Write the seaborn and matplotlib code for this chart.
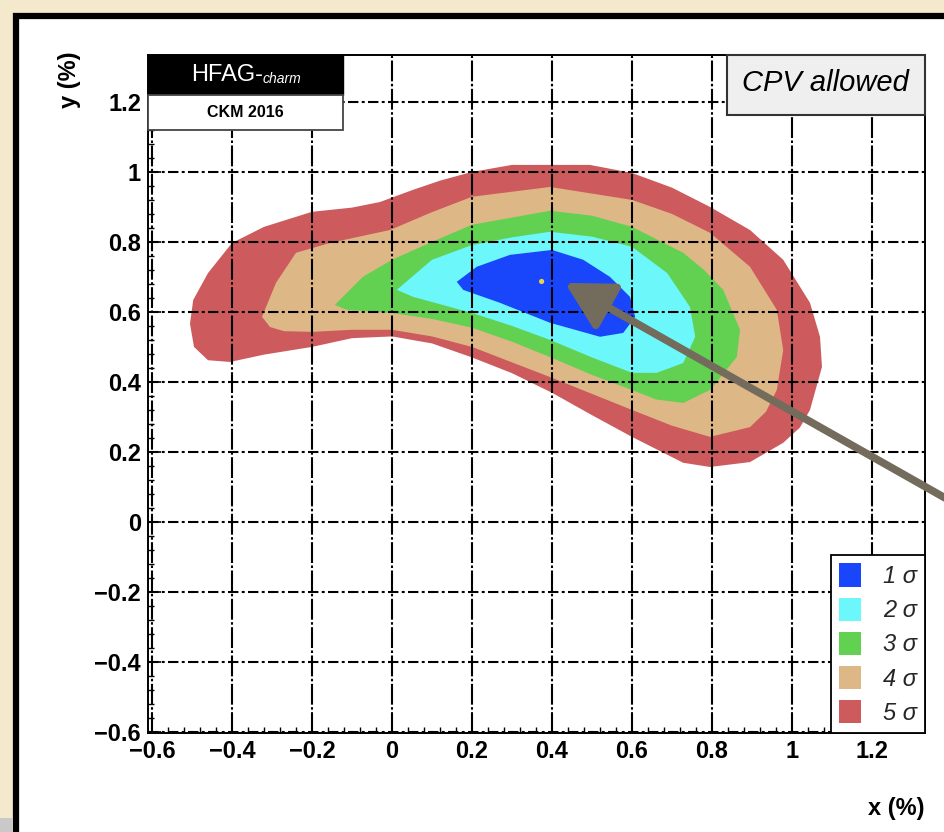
import numpy as np
import matplotlib
matplotlib.use("Agg")
import matplotlib.pyplot as plt
from matplotlib.patches import Rectangle, Patch
import seaborn as sns

# ---------------- data (in % units) ----------------
sigma5_x = [-0.505, -0.497, -0.46, -0.40, -0.32, -0.20, -0.10, -0.03, 0.053, 0.12, 0.20, 0.30,
            0.395, 0.495, 0.60, 0.70, 0.795, 0.895, 0.978, 1.045, 1.07, 1.075, 1.045, 1.02, 0.978,
            0.895, 0.795, 0.728, 0.60, 0.50, 0.40, 0.30, 0.20, 0.10, 0.0, -0.10, -0.20, -0.32,
            -0.405, -0.46, -0.495]
sigma5_y = [0.566, 0.634, 0.711, 0.797, 0.843, 0.886, 0.898, 0.914, 0.949, 0.975, 1.00, 1.02,
            1.02, 1.02, 0.997, 0.955, 0.90, 0.834, 0.749, 0.626, 0.529, 0.443, 0.32, 0.27, 0.226,
            0.171, 0.157, 0.169, 0.243, 0.305, 0.369, 0.425, 0.47, 0.51, 0.53, 0.525, 0.50, 0.478,
            0.457, 0.462, 0.50]

sigma4_x = [-0.325, -0.29, -0.24, -0.155, -0.005, 0.10, 0.20, 0.395, 0.60, 0.70, 0.795, 0.895,
            0.962, 0.978, 0.962, 0.935, 0.895, 0.795, 0.70, 0.60, 0.395, 0.20, 0.10, 0.0, -0.10,
            -0.20, -0.27, -0.305]
sigma4_y = [0.586, 0.683, 0.769, 0.797, 0.834, 0.885, 0.929, 0.957, 0.92, 0.88, 0.826, 0.729,
            0.606, 0.491, 0.377, 0.315, 0.271, 0.243, 0.275, 0.32, 0.414, 0.50, 0.53, 0.549, 0.549,
            0.543, 0.545, 0.557]

sigma3_x = [-0.143, -0.073, 0.0, 0.10, 0.20, 0.395, 0.50, 0.60, 0.728, 0.78, 0.828, 0.87, 0.862,
            0.795, 0.728, 0.66, 0.60, 0.50, 0.395, 0.30, 0.20, 0.10, 0.0, -0.113]
sigma3_y = [0.62, 0.70, 0.749, 0.80, 0.849, 0.889, 0.875, 0.843, 0.769, 0.72, 0.663, 0.549, 0.471,
            0.377, 0.34, 0.35, 0.377, 0.42, 0.471, 0.515, 0.555, 0.58, 0.597, 0.606]

sigma2_x = [0.012, 0.10, 0.20, 0.30, 0.395, 0.50, 0.60, 0.688, 0.745, 0.758, 0.728, 0.662, 0.60,
            0.50, 0.395, 0.30, 0.20, 0.053]
sigma2_y = [0.663, 0.749, 0.791, 0.813, 0.829, 0.815, 0.786, 0.711, 0.614, 0.529, 0.454, 0.426,
            0.426, 0.47, 0.52, 0.56, 0.597, 0.643]

sigma1_x = [0.162, 0.212, 0.295, 0.40, 0.478, 0.545, 0.595, 0.608, 0.578, 0.52, 0.395, 0.27, 0.178]
sigma1_y = [0.686, 0.729, 0.763, 0.777, 0.749, 0.70, 0.643, 0.586, 0.54, 0.529, 0.569, 0.626, 0.663]

best_x = [0.374]
best_y = [0.687]

sigma_labels = ["1 σ", "2 σ", "3 σ", "4 σ", "5 σ"]
sigma_colors = ["#1a46fb", "#6cf7fa", "#62d151", "#deb787", "#cd5b5d"]

x_ticks = [-0.6, -0.4, -0.2, 0.0, 0.2, 0.4, 0.6, 0.8, 1.0, 1.2]
y_ticks = [-0.6, -0.4, -0.2, 0.0, 0.2, 0.4, 0.6, 0.8, 1.0, 1.2]
x_ticklabels = ["−0.6", "−0.4", "−0.2", "0", "0.2", "0.4", "0.6", "0.8", "1", "1.2"]
y_ticklabels = ["−0.6", "−0.4", "−0.2", "0", "0.2", "0.4", "0.6", "0.8", "1", "1.2"]

# ---------------- style ----------------
sns.set_theme(style="white")
plt.rcParams["font.family"] = ["Liberation Sans", "DejaVu Sans"]

W, H = 945, 832
fig = plt.figure(figsize=(W / 100, H / 100), dpi=100)
fig.patch.set_facecolor("#f4e9cc")

# white inner panel with black frame
fig.add_artist(Rectangle((16 / W, -0.05), 1.2, (H - 16) / H + 0.05, transform=fig.transFigure,
                         facecolor="white", edgecolor="black", lw=4.5, zorder=0))
fig.add_artist(Rectangle((0, 0), 12 / W, 14 / H, transform=fig.transFigure,
                         facecolor="#c9c9c9", edgecolor="none", zorder=0))

ax = fig.add_axes([148 / W, 99 / H, 777 / W, 678 / H])
ax.set_facecolor("white")

polys = [(sigma5_x, sigma5_y, sigma_colors[4]),
         (sigma4_x, sigma4_y, sigma_colors[3]),
         (sigma3_x, sigma3_y, sigma_colors[2]),
         (sigma2_x, sigma2_y, sigma_colors[1]),
         (sigma1_x, sigma1_y, sigma_colors[0])]
for px, py, c in polys:
    ax.fill(px, py, color=c, lw=0, zorder=1)

sns.scatterplot(x=best_x, y=best_y, color="#e8d44a", s=14, edgecolor="none",
                ax=ax, zorder=6, legend=False)

ax.set_xlim(-0.61, 1.3325)
ax.set_ylim(-0.603, 1.334)
ax.set_xticks(x_ticks)
ax.set_xticklabels(x_ticklabels)
ax.set_yticks(y_ticks)
ax.set_yticklabels(y_ticklabels)
ax.set_xticks(np.arange(-0.6, 1.33, 0.04), minor=True)
ax.set_yticks(np.arange(-0.6, 1.33, 0.04), minor=True)

ax.set_axisbelow(False)
ax.xaxis.grid(True, which="major", color="black", lw=1.5, linestyle=(0, (10, 1.2, 1.2, 1.2)), zorder=3)
ax.yaxis.grid(True, which="major", color="black", lw=1.5, linestyle=(0, (5, 1.6, 1.4, 1.6)), zorder=3)

ax.tick_params(which="major", direction="in", length=9, width=1.2, color="black",
               labelsize=17, pad=5, top=False, right=False, bottom=True, left=True)
ax.tick_params(which="minor", direction="in", length=4.5, width=1.0, color="black",
               top=False, right=False, bottom=True, left=True)
for lab in ax.get_xticklabels() + ax.get_yticklabels():
    lab.set_fontweight("bold")
    lab.set_color("black")
for s in ax.spines.values():
    s.set_color("black")
    s.set_linewidth(1.4)
ax.set_xlabel("")
ax.set_ylabel("")

fig.text(70 / W, 1 - 80 / H, "y (%)", rotation=90, ha="center", va="center",
         fontsize=17, fontweight="bold", color="black")
fig.text(925 / W, 1 - 808 / H, "x (%)", ha="right", va="center",
         fontsize=17, fontweight="bold", color="black")

# HFAG box
ax.add_patch(Rectangle((0, 0.941), 0.251, 0.059, transform=ax.transAxes, facecolor="black",
                       edgecolor="black", lw=1, zorder=8, clip_on=False))
ax.add_patch(Rectangle((0, 0.889), 0.251, 0.052, transform=ax.transAxes, facecolor="white",
                       edgecolor="#444444", lw=1.3, zorder=8, clip_on=False))
ax.text(0.148, 0.9705, "HFAG-", transform=ax.transAxes, ha="right", va="center",
        color="white", fontsize=17, zorder=9)
ax.text(0.148, 0.964, "charm", transform=ax.transAxes, ha="left", va="center",
        color="white", fontsize=10, style="italic", zorder=9)
ax.text(0.1255, 0.915, "CKM 2016", transform=ax.transAxes, ha="center", va="center",
        color="black", fontsize=11.5, fontweight="bold", zorder=9)

# CPV allowed box
ax.add_patch(Rectangle((0.745, 0.9115), 0.255, 0.0885, transform=ax.transAxes, facecolor="#efefef",
                       edgecolor="#333333", lw=1.5, zorder=8, clip_on=False))
ax.text(0.8725, 0.958, "CPV allowed", transform=ax.transAxes, ha="center", va="center",
        color="black", fontsize=21, style="italic", zorder=9)

# legend
handles = [Patch(facecolor=c, edgecolor="none", label=l) for l, c in zip(sigma_labels, sigma_colors)]
leg = ax.legend(handles=handles, loc="lower right", bbox_to_anchor=(1, 0), bbox_transform=ax.transAxes,
                frameon=True, fancybox=False, framealpha=1, edgecolor="black", borderaxespad=0,
                prop={"style": "italic", "size": 17}, handlelength=0.95, handleheight=1.15,
                handletextpad=0.9, labelspacing=0.4, borderpad=0.35)
leg.get_frame().set_linewidth(1.3)
leg.set_zorder(9)

# arrow
ax.annotate("", xy=(0.4325, 0.683), xytext=(1.45, 0.025), xycoords="data", textcoords="data",
            arrowprops=dict(arrowstyle="-|>,head_length=1.1,head_width=0.6", lw=5.5,
                            color="#736b5b", mutation_scale=26, shrinkA=0, shrinkB=0),
            annotation_clip=False, zorder=10)

fig.savefig("out.png", dpi=100, facecolor=fig.get_facecolor())
